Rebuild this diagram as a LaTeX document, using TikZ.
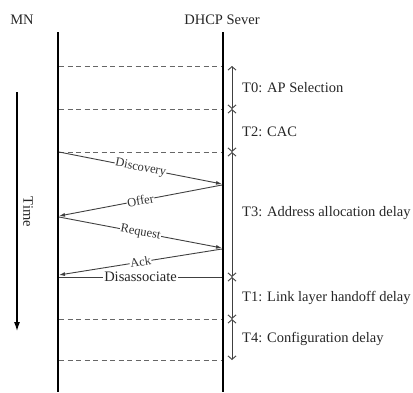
\documentclass[tikz,border=0pt]{standalone}
\usepackage{fontspec}
\setmainfont{Liberation Serif}
\usetikzlibrary{arrows.meta}
\begin{document}
\begin{tikzpicture}[x=1pt,y=-1pt,
  bigtext/.style={font=\fontsize{14.5}{17}\selectfont, inner sep=0pt, text=black!85},
  msgtext/.style={font=\fontsize{12.5}{15}\selectfont, fill=white, inner sep=0.6pt, sloped, midway, text=black!80},
  lifeline/.style={line width=2pt},
  dashline/.style={dashed, dash pattern=on 5pt off 3.5pt, draw=black!60, line width=0.9pt},
  msg/.style={draw=black!75, line width=0.9pt, -{Latex[length=6pt,width=4pt]}},
  plainmsg/.style={draw=black!75, line width=0.9pt},
  delay/.style={draw=black!75, line width=0.9pt, {Straight Barb[length=3.5pt,width=8pt]}-{Straight Barb[length=3.5pt,width=8pt]}},
  timearrow/.style={line width=1.1pt, -{Latex[length=9pt,width=6pt]}}]
\useasboundingbox (0,0) rectangle (413,392);

% headers
\node[bigtext] (mnlabel) at (22,20) {MN};
\node[bigtext] (dhcplabel) at (222,20) {DHCP Sever};

% lifelines
\coordinate (mnTop) at (58,32);
\coordinate (mnBot) at (58,392);
\coordinate (svTop) at (223,32);
\coordinate (svBot) at (223,392);
\draw[lifeline] (mnTop) -- (mnBot);
\draw[lifeline] (svTop) -- (svBot);

% dashed separators
\foreach \n/\y in {a/66, b/109, c/152, d/319, e/360} {
  \coordinate (L\n) at (59,\y);
  \coordinate (R\n) at (222,\y);
  \draw[dashline] (L\n) -- (R\n);
}

% time arrow
\coordinate (tTop) at (17,92);
\coordinate (tBot) at (17,331);
\draw[timearrow] (tTop) -- (tBot);
\node[bigtext, rotate=-90] (timelabel) at (28,212) {Time};

% messages
\coordinate (m1s) at (59,152);
\coordinate (m1e) at (222,184);
\coordinate (m2s) at (222,185);
\coordinate (m2e) at (59,216);
\coordinate (m3s) at (59,217);
\coordinate (m3e) at (222,248);
\coordinate (m4s) at (222,249);
\coordinate (m4e) at (59,275);
\coordinate (m5s) at (222,277);
\coordinate (m5e) at (59,277);
\draw[msg] (m1s) -- node[msgtext] (discovery) {Discovery} (m1e);
\draw[msg] (m2s) -- node[msgtext] (offer) {Offer} (m2e);
\draw[msg] (m3s) -- node[msgtext] (request) {Request} (m3e);
\draw[msg] (m4s) -- node[msgtext] (ack) {Ack} (m4e);
\draw[plainmsg] (m5s) -- node[bigtext, fill=white, inner sep=0.8pt] (disassoc) {Disassociate} (m5e);

% delay arrows
\coordinate (d0) at (232,66);
\coordinate (d1) at (232,109);
\coordinate (d2) at (232,152);
\coordinate (d3) at (232,277);
\coordinate (d4) at (232,319);
\coordinate (d5) at (232,360);
\draw[delay] (d0) -- (d1);
\draw[delay] (d1) -- (d2);
\draw[delay] (d2) -- (d3);
\draw[delay] (d3) -- (d4);
\draw[delay] (d4) -- (d5);

% delay labels
\node[bigtext, anchor=west] (t0) at (242,88) {T0: AP Selection};
\node[bigtext, anchor=west] (t2) at (242,132) {T2: CAC};
\node[bigtext, anchor=west] (t3) at (242,213) {T3: Address allocation delay};
\node[bigtext, anchor=west] (t1) at (242,298) {T1: Link layer handoff delay};
\node[bigtext, anchor=west] (t4) at (242,339) {T4: Configuration delay};
\end{tikzpicture}
\end{document}
